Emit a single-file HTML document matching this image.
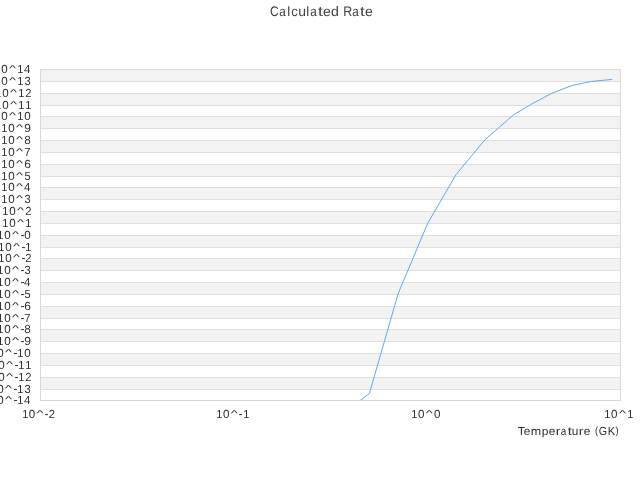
<!DOCTYPE html>
<html><head><meta charset="utf-8"><style>
html,body{margin:0;padding:0;background:#fff;}
svg{display:block;will-change:transform;}
</style></head><body>
<svg width="640" height="480" viewBox="0 0 640 480">
<rect width="640" height="480" fill="#fff"/>
<rect x="40" y="69" width="580" height="12" fill="#f3f3f3"/>
<rect x="40" y="93" width="580" height="12" fill="#f3f3f3"/>
<rect x="40" y="116" width="580" height="12" fill="#f3f3f3"/>
<rect x="40" y="140" width="580" height="12" fill="#f3f3f3"/>
<rect x="40" y="164" width="580" height="12" fill="#f3f3f3"/>
<rect x="40" y="187" width="580" height="12" fill="#f3f3f3"/>
<rect x="40" y="211" width="580" height="12" fill="#f3f3f3"/>
<rect x="40" y="235" width="580" height="12" fill="#f3f3f3"/>
<rect x="40" y="258" width="580" height="12" fill="#f3f3f3"/>
<rect x="40" y="282" width="580" height="12" fill="#f3f3f3"/>
<rect x="40" y="306" width="580" height="12" fill="#f3f3f3"/>
<rect x="40" y="329" width="580" height="12" fill="#f3f3f3"/>
<rect x="40" y="353" width="580" height="12" fill="#f3f3f3"/>
<rect x="40" y="377" width="580" height="12" fill="#f3f3f3"/>
<path d="M40 81.5H621 M40 93.5H621 M40 105.5H621 M40 116.5H621 M40 128.5H621 M40 140.5H621 M40 152.5H621 M40 164.5H621 M40 176.5H621 M40 187.5H621 M40 199.5H621 M40 211.5H621 M40 223.5H621 M40 235.5H621 M40 247.5H621 M40 258.5H621 M40 270.5H621 M40 282.5H621 M40 294.5H621 M40 306.5H621 M40 318.5H621 M40 329.5H621 M40 341.5H621 M40 353.5H621 M40 365.5H621 M40 377.5H621 M40 389.5H621" stroke="#dfdfdf" stroke-width="1" fill="none"/>
<rect x="40.5" y="69.5" width="580" height="331" stroke="#d8d8d8" stroke-width="1" fill="none"/>
<clipPath id="pc"><rect x="41" y="70" width="579" height="330"/></clipPath>
<path d="M355.7 404.0 L369.45 393.3 L398.2 293.5 L427.7 223.3 L456.0 174.7 L484.9 139.7 L513.5 114.9 L531.5 104.1 L552.0 93.2 L572.0 85.5 L591.5 81.45 L611.6 79.45" clip-path="url(#pc)" stroke="#58a2f2" stroke-width="0.95" fill="none" stroke-linejoin="round" stroke-linecap="square"/>
<g font-family="Liberation Sans" font-size="11" fill="#2e2e2e" text-rendering="geometricPrecision">
<text transform="matrix(1.0068 0 0 1.0596 -5.77 73.00)">1</text><text transform="matrix(1.0541 0 0 1.0683 1.27 73.04)">0</text><text transform="matrix(1.3624 0 0 0.7568 9.09 70.71)">^</text><text transform="matrix(1.0068 0 0 1.0596 17.23 73.00)">1</text><text transform="matrix(1.0543 0 0 1.0596 23.99 73.00)">4</text>
<text transform="matrix(1.0068 0 0 1.0596 -5.77 85.00)">1</text><text transform="matrix(1.0541 0 0 1.0683 1.27 85.04)">0</text><text transform="matrix(1.3624 0 0 0.7568 9.09 82.71)">^</text><text transform="matrix(1.0068 0 0 1.0596 17.23 85.00)">1</text><text transform="matrix(1.0124 0 0 1.0683 24.41 85.04)">3</text>
<text transform="matrix(1.0068 0 0 1.0596 -4.77 97.00)">1</text><text transform="matrix(1.0541 0 0 1.0683 2.27 97.04)">0</text><text transform="matrix(1.3624 0 0 0.7568 10.09 94.71)">^</text><text transform="matrix(1.0068 0 0 1.0596 18.23 97.00)">1</text><text transform="matrix(1.0161 0 0 1.0629 25.24 97.00)">2</text>
<text transform="matrix(1.0068 0 0 1.0596 -4.77 109.00)">1</text><text transform="matrix(1.0541 0 0 1.0683 2.27 109.04)">0</text><text transform="matrix(1.3624 0 0 0.7568 10.09 106.71)">^</text><text transform="matrix(1.0068 0 0 1.0596 18.23 109.00)">1</text><text transform="matrix(1.0068 0 0 1.0596 25.23 109.00)">1</text>
<text transform="matrix(1.0068 0 0 1.0596 -5.77 120.00)">1</text><text transform="matrix(1.0541 0 0 1.0683 1.27 120.04)">0</text><text transform="matrix(1.3624 0 0 0.7568 9.09 117.71)">^</text><text transform="matrix(1.0068 0 0 1.0596 17.23 120.00)">1</text><text transform="matrix(1.0541 0 0 1.0683 24.27 120.04)">0</text>
<text transform="matrix(1.0068 0 0 1.0596 1.23 132.00)">1</text><text transform="matrix(1.0541 0 0 1.0683 8.27 132.04)">0</text><text transform="matrix(1.3624 0 0 0.7568 16.09 129.71)">^</text><text transform="matrix(1.0888 0 0 1.0683 24.13 132.04)">9</text>
<text transform="matrix(1.0068 0 0 1.0596 1.23 144.00)">1</text><text transform="matrix(1.0541 0 0 1.0683 8.27 144.04)">0</text><text transform="matrix(1.3624 0 0 0.7568 16.09 141.71)">^</text><text transform="matrix(1.0656 0 0 1.0683 24.24 144.04)">8</text>
<text transform="matrix(1.0068 0 0 1.0596 1.23 156.00)">1</text><text transform="matrix(1.0541 0 0 1.0683 8.27 156.04)">0</text><text transform="matrix(1.3624 0 0 0.7568 16.09 153.71)">^</text><text transform="matrix(1.0311 0 0 1.0596 24.32 156.00)">7</text>
<text transform="matrix(1.0068 0 0 1.0596 1.23 168.00)">1</text><text transform="matrix(1.0541 0 0 1.0683 8.27 168.04)">0</text><text transform="matrix(1.3624 0 0 0.7568 16.09 165.71)">^</text><text transform="matrix(1.0910 0 0 1.0683 24.16 168.04)">6</text>
<text transform="matrix(1.0068 0 0 1.0596 1.23 180.00)">1</text><text transform="matrix(1.0541 0 0 1.0683 8.27 180.04)">0</text><text transform="matrix(1.3624 0 0 0.7568 16.09 177.71)">^</text><text transform="matrix(0.9949 0 0 1.0651 24.41 180.04)">5</text>
<text transform="matrix(1.0068 0 0 1.0596 1.23 191.00)">1</text><text transform="matrix(1.0541 0 0 1.0683 8.27 191.04)">0</text><text transform="matrix(1.3624 0 0 0.7568 16.09 188.71)">^</text><text transform="matrix(1.0543 0 0 1.0596 23.99 191.00)">4</text>
<text transform="matrix(1.0068 0 0 1.0596 1.23 203.00)">1</text><text transform="matrix(1.0541 0 0 1.0683 8.27 203.04)">0</text><text transform="matrix(1.3624 0 0 0.7568 16.09 200.71)">^</text><text transform="matrix(1.0124 0 0 1.0683 24.41 203.04)">3</text>
<text transform="matrix(1.0068 0 0 1.0596 2.23 215.00)">1</text><text transform="matrix(1.0541 0 0 1.0683 9.27 215.04)">0</text><text transform="matrix(1.3624 0 0 0.7568 17.09 212.71)">^</text><text transform="matrix(1.0161 0 0 1.0629 25.24 215.00)">2</text>
<text transform="matrix(1.0068 0 0 1.0596 2.23 227.00)">1</text><text transform="matrix(1.0541 0 0 1.0683 9.27 227.04)">0</text><text transform="matrix(1.3624 0 0 0.7568 17.09 224.71)">^</text><text transform="matrix(1.0068 0 0 1.0596 25.23 227.00)">1</text>
<text transform="matrix(1.0068 0 0 1.0596 -2.77 239.00)">1</text><text transform="matrix(1.0541 0 0 1.0683 4.27 239.04)">0</text><text transform="matrix(1.3624 0 0 0.7568 12.09 236.71)">^</text><text transform="matrix(1.1171 0 0 1.1636 20.45 238.90)">-</text><text transform="matrix(1.0541 0 0 1.0683 24.27 239.04)">0</text>
<text transform="matrix(1.0068 0 0 1.0596 -1.77 251.00)">1</text><text transform="matrix(1.0541 0 0 1.0683 5.27 251.04)">0</text><text transform="matrix(1.3624 0 0 0.7568 13.09 248.71)">^</text><text transform="matrix(1.1171 0 0 1.1636 21.45 250.90)">-</text><text transform="matrix(1.0068 0 0 1.0596 25.23 251.00)">1</text>
<text transform="matrix(1.0068 0 0 1.0596 -1.77 262.00)">1</text><text transform="matrix(1.0541 0 0 1.0683 5.27 262.04)">0</text><text transform="matrix(1.3624 0 0 0.7568 13.09 259.71)">^</text><text transform="matrix(1.1171 0 0 1.1636 21.45 261.90)">-</text><text transform="matrix(1.0161 0 0 1.0629 25.24 262.00)">2</text>
<text transform="matrix(1.0068 0 0 1.0596 -2.77 274.00)">1</text><text transform="matrix(1.0541 0 0 1.0683 4.27 274.04)">0</text><text transform="matrix(1.3624 0 0 0.7568 12.09 271.71)">^</text><text transform="matrix(1.1171 0 0 1.1636 20.45 273.90)">-</text><text transform="matrix(1.0124 0 0 1.0683 24.41 274.04)">3</text>
<text transform="matrix(1.0068 0 0 1.0596 -2.77 286.00)">1</text><text transform="matrix(1.0541 0 0 1.0683 4.27 286.04)">0</text><text transform="matrix(1.3624 0 0 0.7568 12.09 283.71)">^</text><text transform="matrix(1.1171 0 0 1.1636 20.45 285.90)">-</text><text transform="matrix(1.0543 0 0 1.0596 23.99 286.00)">4</text>
<text transform="matrix(1.0068 0 0 1.0596 -2.77 298.00)">1</text><text transform="matrix(1.0541 0 0 1.0683 4.27 298.04)">0</text><text transform="matrix(1.3624 0 0 0.7568 12.09 295.71)">^</text><text transform="matrix(1.1171 0 0 1.1636 20.45 297.90)">-</text><text transform="matrix(0.9949 0 0 1.0651 24.41 298.04)">5</text>
<text transform="matrix(1.0068 0 0 1.0596 -2.77 310.00)">1</text><text transform="matrix(1.0541 0 0 1.0683 4.27 310.04)">0</text><text transform="matrix(1.3624 0 0 0.7568 12.09 307.71)">^</text><text transform="matrix(1.1171 0 0 1.1636 20.45 309.90)">-</text><text transform="matrix(1.0910 0 0 1.0683 24.16 310.04)">6</text>
<text transform="matrix(1.0068 0 0 1.0596 -2.77 322.00)">1</text><text transform="matrix(1.0541 0 0 1.0683 4.27 322.04)">0</text><text transform="matrix(1.3624 0 0 0.7568 12.09 319.71)">^</text><text transform="matrix(1.1171 0 0 1.1636 20.45 321.90)">-</text><text transform="matrix(1.0311 0 0 1.0596 24.32 322.00)">7</text>
<text transform="matrix(1.0068 0 0 1.0596 -2.77 333.00)">1</text><text transform="matrix(1.0541 0 0 1.0683 4.27 333.04)">0</text><text transform="matrix(1.3624 0 0 0.7568 12.09 330.71)">^</text><text transform="matrix(1.1171 0 0 1.1636 20.45 332.90)">-</text><text transform="matrix(1.0656 0 0 1.0683 24.24 333.04)">8</text>
<text transform="matrix(1.0068 0 0 1.0596 -2.77 345.00)">1</text><text transform="matrix(1.0541 0 0 1.0683 4.27 345.04)">0</text><text transform="matrix(1.3624 0 0 0.7568 12.09 342.71)">^</text><text transform="matrix(1.1171 0 0 1.1636 20.45 344.90)">-</text><text transform="matrix(1.0888 0 0 1.0683 24.13 345.04)">9</text>
<text transform="matrix(1.0068 0 0 1.0596 -9.77 357.00)">1</text><text transform="matrix(1.0541 0 0 1.0683 -2.73 357.04)">0</text><text transform="matrix(1.3624 0 0 0.7568 5.09 354.71)">^</text><text transform="matrix(1.1171 0 0 1.1636 13.45 356.90)">-</text><text transform="matrix(1.0068 0 0 1.0596 17.23 357.00)">1</text><text transform="matrix(1.0541 0 0 1.0683 24.27 357.04)">0</text>
<text transform="matrix(1.0068 0 0 1.0596 -8.77 369.00)">1</text><text transform="matrix(1.0541 0 0 1.0683 -1.73 369.04)">0</text><text transform="matrix(1.3624 0 0 0.7568 6.09 366.71)">^</text><text transform="matrix(1.1171 0 0 1.1636 14.45 368.90)">-</text><text transform="matrix(1.0068 0 0 1.0596 18.23 369.00)">1</text><text transform="matrix(1.0068 0 0 1.0596 25.23 369.00)">1</text>
<text transform="matrix(1.0068 0 0 1.0596 -8.77 381.00)">1</text><text transform="matrix(1.0541 0 0 1.0683 -1.73 381.04)">0</text><text transform="matrix(1.3624 0 0 0.7568 6.09 378.71)">^</text><text transform="matrix(1.1171 0 0 1.1636 14.45 380.90)">-</text><text transform="matrix(1.0068 0 0 1.0596 18.23 381.00)">1</text><text transform="matrix(1.0161 0 0 1.0629 25.24 381.00)">2</text>
<text transform="matrix(1.0068 0 0 1.0596 -9.77 393.00)">1</text><text transform="matrix(1.0541 0 0 1.0683 -2.73 393.04)">0</text><text transform="matrix(1.3624 0 0 0.7568 5.09 390.71)">^</text><text transform="matrix(1.1171 0 0 1.1636 13.45 392.90)">-</text><text transform="matrix(1.0068 0 0 1.0596 17.23 393.00)">1</text><text transform="matrix(1.0124 0 0 1.0683 24.41 393.04)">3</text>
<text transform="matrix(1.0068 0 0 1.0596 -9.77 404.00)">1</text><text transform="matrix(1.0541 0 0 1.0683 -2.73 404.04)">0</text><text transform="matrix(1.3624 0 0 0.7568 5.09 401.71)">^</text><text transform="matrix(1.1171 0 0 1.1636 13.45 403.90)">-</text><text transform="matrix(1.0068 0 0 1.0596 17.23 404.00)">1</text><text transform="matrix(1.0543 0 0 1.0596 23.99 404.00)">4</text>
<text transform="matrix(1.0068 0 0 1.0596 22.23 418.00)">1</text><text transform="matrix(1.0541 0 0 1.0683 28.77 418.04)">0</text><text transform="matrix(1.3624 0 0 0.7568 36.59 415.71)">^</text><text transform="matrix(1.1171 0 0 1.1636 44.45 417.90)">-</text><text transform="matrix(1.0161 0 0 1.0629 48.74 418.00)">2</text>
<text transform="matrix(1.0068 0 0 1.0596 216.23 418.00)">1</text><text transform="matrix(1.0541 0 0 1.0683 222.97 418.04)">0</text><text transform="matrix(1.3624 0 0 0.7568 230.79 415.71)">^</text><text transform="matrix(1.1171 0 0 1.1636 238.45 417.90)">-</text><text transform="matrix(1.0068 0 0 1.0596 243.23 418.00)">1</text>
<text transform="matrix(1.0068 0 0 1.0596 411.23 418.00)">1</text><text transform="matrix(1.0541 0 0 1.0683 417.97 418.04)">0</text><text transform="matrix(1.3624 0 0 0.7568 425.79 415.71)">^</text><text transform="matrix(1.0541 0 0 1.0683 433.97 418.04)">0</text>
<text transform="matrix(1.0068 0 0 1.0596 604.23 418.00)">1</text><text transform="matrix(1.0541 0 0 1.0683 611.07 418.04)">0</text><text transform="matrix(1.3624 0 0 0.7568 618.89 415.71)">^</text><text transform="matrix(1.0068 0 0 1.0596 627.23 418.00)">1</text>
<text transform="matrix(1.0907 0 0 1.0596 517.80 435.00)">T</text><text transform="matrix(1.0801 0 0 1.0481 523.70 435.04)">e</text><text transform="matrix(1.1394 0 0 1.0408 530.77 435.00)">m</text><text transform="matrix(1.0879 0 0 1.0308 541.83 434.94)">p</text><text transform="matrix(1.0801 0 0 1.0481 548.70 435.04)">e</text><text transform="matrix(1.2812 0 0 1.0408 555.66 435.00)">r</text><text transform="matrix(0.8992 0 0 1.0481 560.84 435.04)">a</text><text transform="matrix(1.3365 0 0 1.0731 567.67 434.91)">t</text><text transform="matrix(1.0782 0 0 1.0672 571.76 435.04)">u</text><text transform="matrix(1.2812 0 0 1.0408 578.66 435.00)">r</text><text transform="matrix(1.0801 0 0 1.0481 583.70 435.04)">e</text> <text transform="matrix(0.8453 0 0 0.9560 594.97 434.27)">(</text><text transform="matrix(0.9753 0 0 1.0683 598.68 435.04)">G</text><text transform="matrix(1.0085 0 0 1.0596 607.77 435.00)">K</text><text transform="matrix(0.8453 0 0 0.9560 615.43 434.27)">)</text>
</g>
<g font-family="Liberation Sans" font-size="13" fill="#3e3e3e" text-rendering="geometricPrecision"><text transform="matrix(0.9283 0 0 1.0683 270.12 15.85)">C</text><text transform="matrix(0.8992 0 0 1.0481 279.28 15.85)">a</text><text transform="matrix(1.0222 0 0 1.0485 287.33 15.80)">l</text><text transform="matrix(1.0034 0 0 1.0481 291.16 15.85)">c</text><text transform="matrix(1.0782 0 0 1.0672 298.19 15.85)">u</text><text transform="matrix(1.0222 0 0 1.0485 306.33 15.80)">l</text><text transform="matrix(0.8992 0 0 1.0481 310.28 15.85)">a</text><text transform="matrix(1.3365 0 0 1.0731 318.09 15.69)">t</text><text transform="matrix(1.0801 0 0 1.0481 323.12 15.85)">e</text><text transform="matrix(1.0869 0 0 1.0539 331.12 15.85)">d</text> <text transform="matrix(0.9564 0 0 1.0596 343.26 15.80)">R</text><text transform="matrix(0.8992 0 0 1.0481 352.28 15.85)">a</text><text transform="matrix(1.3365 0 0 1.0731 360.09 15.69)">t</text><text transform="matrix(1.0801 0 0 1.0481 365.12 15.85)">e</text></g>
</svg>
</body></html>
